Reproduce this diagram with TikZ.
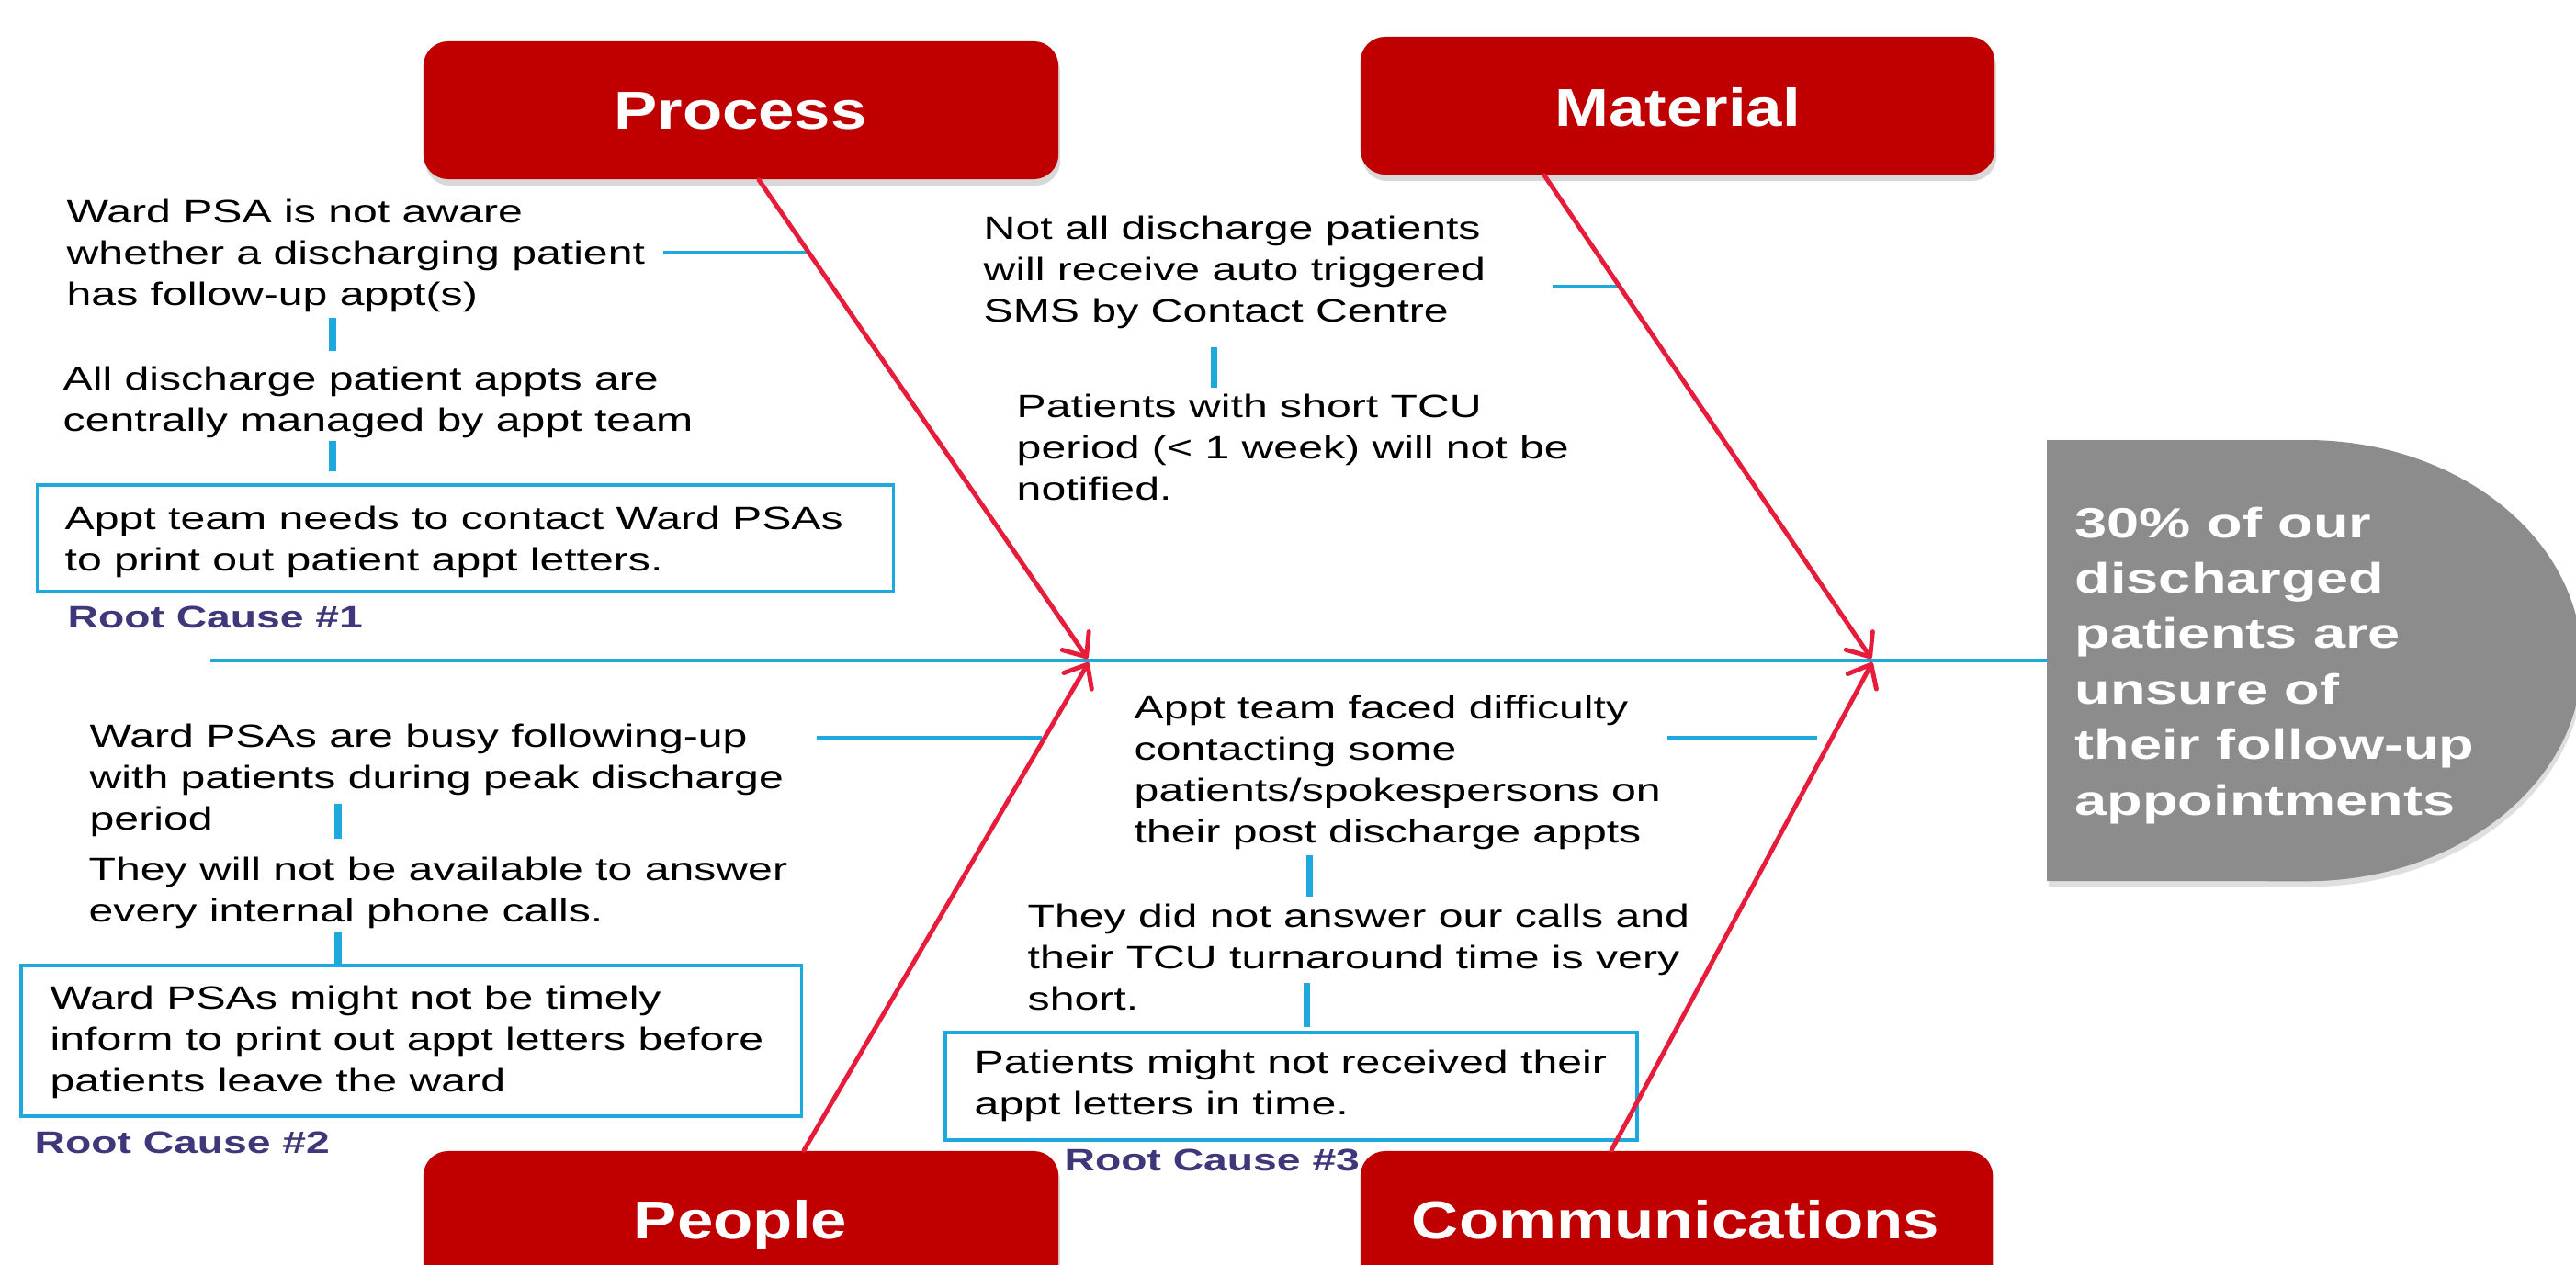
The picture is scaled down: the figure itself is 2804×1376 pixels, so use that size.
\documentclass[tikz,border=0pt]{standalone}
\usepackage{fontspec}
\setmainfont{Liberation Sans}
\usepackage{graphicx}
\usetikzlibrary{arrows.meta,shadows}
\definecolor{catred}{RGB}{192,0,0}
\definecolor{bonered}{RGB}{230,28,58}
\definecolor{boneblue}{RGB}{29,169,222}
\definecolor{effgray}{RGB}{140,140,140}
\definecolor{rcblue}{RGB}{62,56,122}
\newcommand\stretchlines[2]{\scalebox{#1}[1]{\vtop{\halign{##\hfil\cr#2\crcr}}}}
\tikzset{
  catbox/.style={fill=catred, draw=none, rounded corners=0.27cm, minimum height=1.5cm,
    inner sep=0pt, drop shadow={shadow xshift=0.02cm, shadow yshift=-0.07cm, opacity=0.3}},
  cattitle/.style={anchor=base, inner sep=0pt, text=white,
    font=\fontsize{16.5pt}{19pt}\selectfont\bfseries},
  cause/.style={anchor=base west, inner sep=0pt, font=\fontsize{10pt}{12.8pt}\selectfont},
  efftext/.style={anchor=base west, inner sep=0pt, text=white,
    font=\fontsize{13.1pt}{17.2pt}\selectfont\bfseries},
  rootbox/.style={draw=boneblue, line width=1pt, inner sep=0pt},
  rclabel/.style={anchor=base west, inner sep=0pt, text=rcblue,
    font=\fontsize{9.6pt}{11pt}\selectfont\bfseries},
  bone/.style={draw=bonered, line width=1.4pt, line cap=round,
    -{Straight Barb[length=6pt,width=10pt,round]}},
  htick/.style={draw=boneblue, line width=1.4pt},
  vtick/.style={draw=boneblue, line width=2pt},
  spine/.style={draw=boneblue, line width=1.3pt},
}
\begin{document}
\begin{tikzpicture}[x=0.01cm,y=-0.01cm]
\useasboundingbox (0,0) rectangle (2804,1376);
\clip (0,0) rectangle (2804,1376);
\fill[white] (0,0) rectangle (2804,1376);

% effect shape
\path[fill=effgray, drop shadow={shadow xshift=0.02cm, shadow yshift=-0.06cm, opacity=0.25}]
  (2228,479) -- (2510,479) arc[start angle=90, end angle=-90, x radius=3cm, y radius=2.4cm]
  -- (2228,959) -- cycle;
\coordinate (effW) at (2228,719);
\node[efftext] (effect) at (2258,585) {\stretchlines{1.37}{30\% of our\cr discharged\cr patients are\cr unsure of\cr their follow-up\cr appointments}};

% spine
\coordinate (sp0) at (229,719);
\draw[spine] (sp0) -- (effW);

% category boxes
\node[catbox, minimum width=6.91cm] (process) at (806.5,120) {};
\node[catbox, minimum width=6.9cm] (material) at (1826,115) {};
\node[catbox, minimum width=6.91cm] (people) at (806.5,1328) {};
\node[catbox, minimum width=6.88cm] (comms) at (1825,1328) {};
\node[cattitle] (processT) at (806,141) {\scalebox{1.22}[1]{Process}};
\node[cattitle] (materialT) at (1826,137) {\scalebox{1.22}[1]{Material}};
\node[cattitle] (peopleT) at (806,1348) {\scalebox{1.22}[1]{People}};
\node[cattitle] (commsT) at (1824,1348) {\scalebox{1.22}[1]{Communications}};

% root cause boxes
\node[rootbox, minimum width=9.31cm, minimum height=1.16cm] (rc1box) at (506.5,586) {};
\node[rootbox, minimum width=8.49cm, minimum height=1.64cm] (rc2box) at (447.5,1133) {};
\node[rootbox, minimum width=7.53cm, minimum height=1.17cm] (rc3box) at (1405.5,1182.5) {};

% cause texts
\node[cause] (a1) at (72,242) {\stretchlines{1.37}{Ward PSA is not aware\cr whether a discharging patient\cr has follow-up appt(s)}};
\node[cause] (a2) at (68,424) {\stretchlines{1.37}{All discharge patient appts are\cr centrally managed by appt team}};
\node[cause] (a3) at (70,576) {\stretchlines{1.37}{Appt team needs to contact Ward PSAs\cr to print out patient appt letters.}};
\node[rclabel] (rc1) at (73,683) {\scalebox{1.37}[1]{Root Cause \#1}};

\node[cause] (m1) at (1070,260) {\stretchlines{1.37}{Not all discharge patients\cr will receive auto triggered\cr SMS by Contact Centre}};
\node[cause] (m2) at (1106,454) {\stretchlines{1.37}{Patients with short TCU\cr period (< 1 week) will not be\cr notified.}};

\node[cause] (p1) at (97,813) {\stretchlines{1.37}{Ward PSAs are busy following-up\cr with patients during peak discharge\cr period}};
\node[cause] (p2) at (96,958) {\stretchlines{1.37}{They will not be available to answer\cr every internal phone calls.}};
\node[cause] (p3) at (54,1098) {\stretchlines{1.37}{Ward PSAs might not be timely\cr inform to print out appt letters before\cr patients leave the ward}};
\node[rclabel] (rc2) at (37,1255) {\scalebox{1.37}[1]{Root Cause \#2}};

\node[cause] (c1) at (1234,782) {\stretchlines{1.37}{Appt team faced difficulty\cr contacting some\cr patients/spokespersons on\cr their post discharge appts}};
\node[cause] (c2) at (1118,1009) {\stretchlines{1.37}{They did not answer our calls and\cr their TCU turnaround time is very\cr short.}};
\node[cause] (c3) at (1060,1168) {\stretchlines{1.37}{Patients might not received their\cr appt letters in time.}};
\node[rclabel] (rc3) at (1158,1274) {\scalebox{1.37}[1]{Root Cause \#3}};

% ticks
\coordinate (h1a) at (722,275);  \coordinate (h1b) at (882,275);
\coordinate (h2a) at (1690,312); \coordinate (h2b) at (1763,312);
\coordinate (h3a) at (889,803);  \coordinate (h3b) at (1134,803);
\coordinate (h4a) at (1815,803); \coordinate (h4b) at (1978,803);
\draw[htick] (h1a) -- (h1b);
\draw[htick] (h2a) -- (h2b);
\draw[htick] (h3a) -- (h3b);
\draw[htick] (h4a) -- (h4b);
\coordinate (v1a) at (362,346);  \coordinate (v1b) at (362,382);
\coordinate (v2a) at (362,480);  \coordinate (v2b) at (362,513);
\coordinate (v3a) at (1321,378); \coordinate (v3b) at (1321,422);
\coordinate (v4a) at (368,875);  \coordinate (v4b) at (368,913);
\coordinate (v5a) at (368,1015); \coordinate (v5b) at (368,1051);
\coordinate (v6a) at (1425,931); \coordinate (v6b) at (1425,976);
\coordinate (v7a) at (1422,1070); \coordinate (v7b) at (1422,1118);
\draw[vtick] (v1a) -- (v1b);
\draw[vtick] (v2a) -- (v2b);
\draw[vtick] (v3a) -- (v3b);
\draw[vtick] (v4a) -- (v4b);
\draw[vtick] (v5a) -- (v5b);
\draw[vtick] (v6a) -- (v6b);
\draw[vtick] (v7a) -- (v7b);

% bones
\coordinate (j1u) at (1184,717);
\coordinate (j1d) at (1185,721);
\coordinate (j2u) at (2037,717);
\coordinate (j2d) at (2038,721);
\draw[bone] ([xshift=0.195cm]process.south) -- (j1u);
\draw[bone] ([xshift=-1.45cm]material.south) -- (j2u);
\draw[bone] ([xshift=0.685cm]people.north) -- (j1d);
\draw[bone] ([xshift=-0.71cm]comms.north) -- (j2d);
\end{tikzpicture}
\end{document}
